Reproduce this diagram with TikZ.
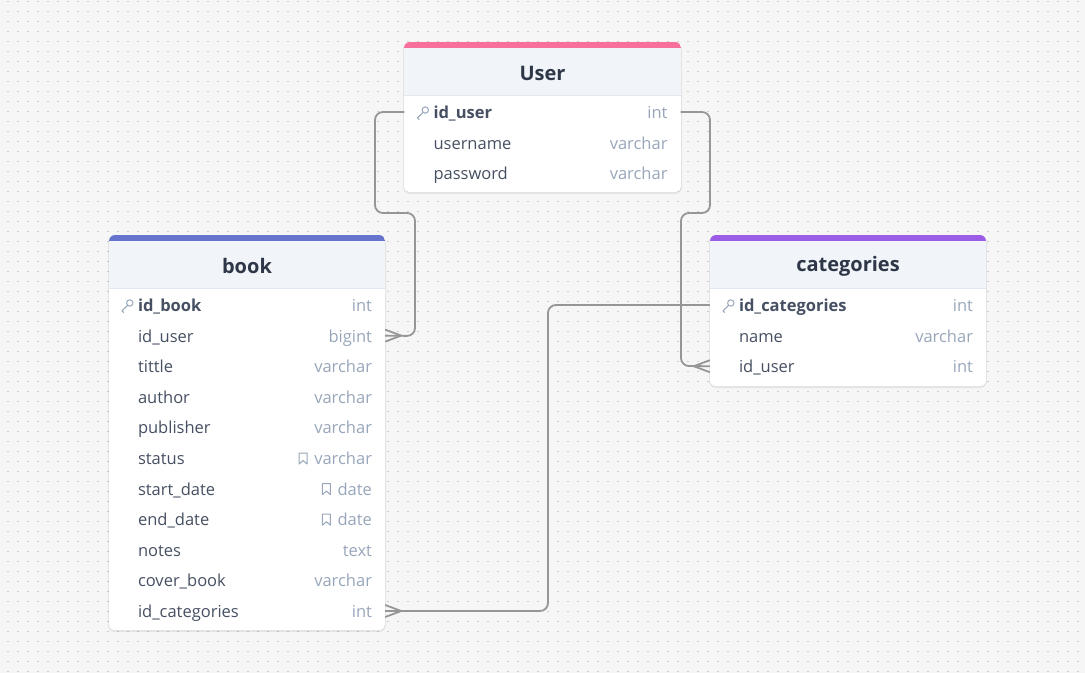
\documentclass[tikz,border=0pt]{standalone}
\usepackage{fontspec}
\setmainfont{Open Sans}
\usepackage{tikz}
\usetikzlibrary{calc, positioning}
\definecolor{bgcol}{RGB}{246,246,246}
\definecolor{dotcol}{RGB}{206,206,206}
\definecolor{userpink}{RGB}{247,112,156}
\definecolor{bookblue}{RGB}{102,116,206}
\definecolor{catpurple}{RGB}{155,93,229}
\definecolor{headbg}{RGB}{241,244,248}
\definecolor{headline}{RGB}{226,232,240}
\definecolor{titlecol}{RGB}{45,55,72}
\definecolor{namecol}{RGB}{70,80,98}
\definecolor{typecol}{RGB}{152,166,186}
\definecolor{relcol}{RGB}{150,150,150}

\tikzset{
  rowbox/.style={minimum width=276pt, minimum height=30pt, inner sep=0pt},
  title/.style={font=\fontsize{20}{24}\selectfont\bfseries, text=titlecol, inner sep=0pt},
  fname/.style={font=\fontsize{16.5}{19}\selectfont, text=namecol, inner sep=0pt, text height=15pt, text depth=2pt},
  ftype/.style={font=\fontsize{16.5}{19}\selectfont, text=typecol, inner sep=0pt, text height=15pt, text depth=2pt},
  rel/.style={draw=relcol, line width=1.8pt, rounded corners=8pt},
  foot/.style={draw=relcol, line width=1.8pt},
  icon/.style={draw=typecol, line width=1pt, line join=round},
}

\begin{document}
\begin{tikzpicture}[x=1pt, y=-1pt]
  \useasboundingbox (0,0) rectangle (1085,673);
  \fill[bgcol] (0,0) rectangle (1085,673);
  % dotted grid
  \foreach \y in {1.5,11.5,...,671.5} {
    \draw[dotcol, line width=1.3pt, dash pattern=on 1.3pt off 8.7pt] (7.4,\y) -- (1085,\y);
  }

  % tables
  \foreach \nm/\xa/\xb/\ya/\yb/\col/\ttl in {user/404/681/42/192/userpink/User,
                                            book/109/385/235/630/bookblue/book,
                                            cat/710/986/235/386/catpurple/categories} {
    \fill[black, opacity=0.07, rounded corners=7pt] (\xa-1,\ya+1) rectangle (\xb+1,\yb+2);
    \begin{scope}
      \clip[rounded corners=6pt] (\xa,\ya) rectangle (\xb,\yb);
      \fill[white] (\xa,\ya) rectangle (\xb,\yb);
      \fill[headbg] (\xa,\ya) rectangle (\xb,\ya+53);
      \fill[\col] (\xa,\ya) rectangle (\xb,\ya+6);
      \draw[headline, line width=1pt] (\xa,\ya+53) -- (\xb,\ya+53);
    \end{scope}
    \node[title] (\nm-title) at ({(\xa+\xb)/2},\ya+31) {\ttl};
  }

  % rows
  \foreach \i/\fn/\ft in {1/\textbf{id\_user}/int, 2/username/varchar, 3/password/varchar} {
    \node[rowbox] (user\i) at (542.5,{112+(\i-1)*30.6}) {};
    \node[fname, right=29pt of user\i.west] (user\i-n) {\fn};
    \node[ftype, left=13pt of user\i.east] (user\i-t) {\ft};
  }
  \foreach \i/\fn/\ft in {1/\textbf{id\_book}/int, 2/id\_user/bigint, 3/tittle/varchar,
                          4/author/varchar, 5/publisher/varchar, 6/status/varchar,
                          7/start\_date/date, 8/end\_date/date, 9/notes/text,
                          10/cover\_book/varchar, 11/id\_categories/int} {
    \node[rowbox] (book\i) at (247,{305+(\i-1)*30.6}) {};
    \node[fname, right=29pt of book\i.west] (book\i-n) {\fn};
    \node[ftype, left=13pt of book\i.east] (book\i-t) {\ft};
  }
  \foreach \i/\fn/\ft in {1/\textbf{id\_categories}/int, 2/name/varchar, 3/id\_user/int} {
    \node[rowbox] (cat\i) at (848,{305+(\i-1)*30.6}) {};
    \node[fname, right=29pt of cat\i.west] (cat\i-n) {\fn};
    \node[ftype, left=13pt of cat\i.east] (cat\i-t) {\ft};
  }

  % key and note icons
  \foreach \k in {user1-n, book1-n, cat1-n} {
    \draw[icon] (\k.west) ++(-8,-2) circle (3.2pt) ++(-2.3,2.3) -- ++(-5.5,5.5) -- ++(1.8,1.8);
  }
  \foreach \k in {book6-t, book7-t, book8-t} {
    \draw[icon] ([xshift=-7pt]\k.west) ++(-8,-5) -- ++(0,11) -- ++(4,-3.5) -- ++(4,3.5) -- ++(0,-11) -- cycle;
  }

  % relations
  \draw[rel] (user1.west) -| (375,213) -| (415,336) -- (book2.east);
  \draw[rel] (user1.east) -| (710,213) -| (681,366) -- (cat3.west);
  \draw[rel] (cat1.west) -| (548,611) -- (book11.east);
  \foreach \r/\d in {book2.east/16, book11.east/16, cat3.west/-16} {
    \draw[foot] ([xshift=\d pt]\r) -- ([yshift=6pt]\r);
    \draw[foot] ([xshift=\d pt]\r) -- ([yshift=-6pt]\r);
  }
\end{tikzpicture}
\end{document}
